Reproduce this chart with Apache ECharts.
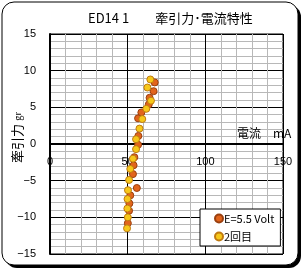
<!DOCTYPE html>
<html><head><meta charset="utf-8">
<script src="https://cdn.jsdelivr.net/npm/echarts@6/dist/echarts.min.js"></script>
<style>html,body{margin:0;padding:0;background:#fff}#c{width:306px;height:272px}</style>
</head><body><div id="c"></div>
<script>
const titleText = 'ED14 1　　牽引力･電流特性';
const series1Name = 'E=5.5 Volt';
const series2Name = '2回目';
const xTicks = [0, 50, 100, 150];
const yTicks = [-15, -10, -5, 0, 5, 10, 15];
// series 1: [current mA, force gr]
const s1x = [67.4, 66.7, 64.1, 63.6, 58.8, 56.7, 56.9, 56.7, 54.3, 53.8, 53.4, 55.9, 51.7, 51.1, 50.9, 50.1];
const s1y = [8.4, 7.2, 6.3, 5.4, 4.3, 3.5, 1.1, -0.1, -1.8, -2.9, -4.1, -6.0, -7.0, -8.1, -9.1, -10.8];
// series 2
const s2x = [64.6, 62.7, 65.0, 62.0, 59.4, 57.6, 55.4, 55.4, 53.4, 51.7, 50.9, 50.2, 49.9, 49.8, 50.1, 49.6];
const s2y = [8.8, 7.7, 5.9, 4.8, 3.4, 2.1, 0.65, -0.7, -2.0, -3.4, -4.9, -6.3, -7.5, -8.8, -10.0, -11.5];

const font = '"Noto Sans CJK JP", "Noto Sans", sans-serif';
const chart = echarts.init(document.getElementById('c'), null, {renderer: 'canvas'});
const zip = (a, b) => a.map((v, i) => [v, b[i]]);
chart.setOption({
  animation: false,
  backgroundColor: '#fff',
  graphic: [
    {type: 'rect', shape: {x: 5, y: 5, width: 296, height: 263, r: 12}, style: {fill: '#000'}, z: -10},
    {type: 'rect', shape: {x: 2, y: 2, width: 296, height: 263, r: 12}, style: {fill: '#fff', stroke: '#000', lineWidth: 1}, z: -9},
    {type: 'text', left: 237, top: 127, style: {text: '電流　mA', font: '12px ' + font, fill: '#000'}, z: 10},
    {type: 'text', x: 11, y: 163, rotation: Math.PI / 2, style: {text: '{a|牽引力} {b|gr}', rich: {a: {font: '13px ' + font, fill: '#000'}, b: {font: '9px ' + font, fill: '#000'}}, fill: '#000'}, z: 10}
  ],
  title: {text: titleText, left: 83, top: 7, textStyle: {fontSize: 13, fontWeight: 'normal', fontFamily: font, color: '#000'}},
  grid: {left: 50, top: 34, right: 23, bottom: 18, show: true, borderColor: '#000', borderWidth: 1, backgroundColor: 'transparent'},
  legend: {
    orient: 'vertical', left: 200, top: 209, width: 79, height: 38,
    backgroundColor: '#fff', borderColor: '#000', borderWidth: 1,
    padding: [4, 6, 4, 14], itemGap: 7, itemWidth: 8, itemHeight: 8,
    textStyle: {fontSize: 11, fontFamily: font, color: '#000', padding: [0, 0, 0, -4]},
    data: [{name: series1Name, icon: 'circle'}, {name: series2Name, icon: 'circle'}]
  },
  xAxis: {
    type: 'value', min: 0, max: 150, interval: 50, position: 'bottom', offset: -110,
    axisLine: {onZero: false, lineStyle: {color: '#000', width: 2}},
    axisTick: {show: false},
    axisLabel: {margin: 12, fontSize: 11, color: '#000', fontFamily: 'sans-serif'},
    splitLine: {lineStyle: {color: '#000', width: 1}},
    minorTick: {show: false, splitNumber: 5},
    minorSplitLine: {show: true, lineStyle: {color: '#b8b8b8', width: 1}}
  },
  yAxis: {
    type: 'value', min: -15, max: 15, interval: 5,
    axisLine: {show: true, lineStyle: {color: '#000', width: 2}},
    axisTick: {show: false},
    axisLabel: {margin: 14, fontSize: 11, color: '#000', fontFamily: 'sans-serif', formatter: v => v < 0 ? '−' + (-v) : String(v)},
    splitLine: {lineStyle: {color: '#000', width: 1}},
    minorTick: {show: false, splitNumber: 5},
    minorSplitLine: {show: true, lineStyle: {color: '#b8b8b8', width: 1}}
  },
  series: [
    {name: series1Name, type: 'scatter', symbol: 'circle', symbolSize: 7, data: zip(s1x, s1y),
     itemStyle: {color: '#e2641c', borderColor: '#9a4010', borderWidth: 1, opacity: 1}, z: 3},
    {name: series2Name, type: 'scatter', symbol: 'circle', symbolSize: 7, data: zip(s2x, s2y),
     itemStyle: {color: '#f6c81a', borderColor: '#c07a10', borderWidth: 1, opacity: 1}, z: 4}
  ]
});
</script></body></html>
